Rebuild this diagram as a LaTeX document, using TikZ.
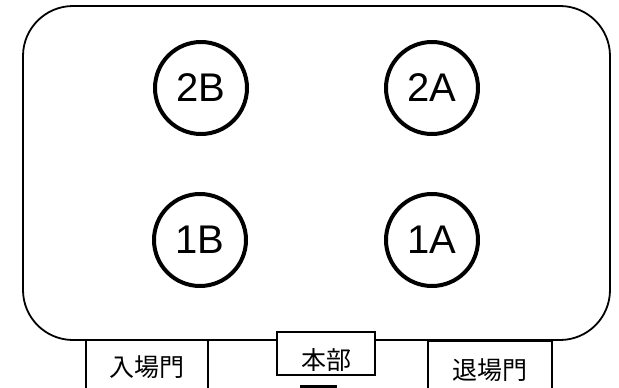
\documentclass[tikz,border=0pt]{standalone}
\usepackage{fontspec}
\setmainfont{Liberation Sans}
\newfontfamily\jpfont{Noto Sans CJK JP}
\begin{document}
\begin{tikzpicture}[x=1pt,y=-1pt,
  field/.style={line width=1.8pt, rounded corners=50pt},
  court/.style={circle, draw, line width=4pt, minimum size=92pt, inner sep=0pt, font=\fontsize{40}{40}\selectfont},
  gate/.style={rectangle, draw, fill=white, line width=1.5pt, inner sep=0pt, font=\jpfont\fontsize{25}{25}\selectfont}]
\useasboundingbox (0,0) rectangle (619,388);
\clip (0,0) rectangle (619,388);
\draw[field] (23,6) rectangle (610,340);
\node[court] (c2B) at (201,88) {2B};
\node[court] (c2A) at (432,88) {2A};
\node[court] (c1B) at (200,240) {1B};
\node[court] (c1A) at (432,240) {1A};
\node[gate, minimum width=122pt, minimum height=60pt] (entry) at (147,370) {\raisebox{-6.2pt}[0pt][0pt]{入場門}};
\node[gate, minimum width=124pt, minimum height=60pt] (exit) at (490,371) {\raisebox{-8.2pt}[0pt][0pt]{退場門}};
\node[gate, minimum width=98pt, minimum height=43pt] (hq) at (326,353.5) {\raisebox{-15.5pt}[0pt][0pt]{本部}};
\fill (300,385) rectangle (337,390);
\end{tikzpicture}
\end{document}
